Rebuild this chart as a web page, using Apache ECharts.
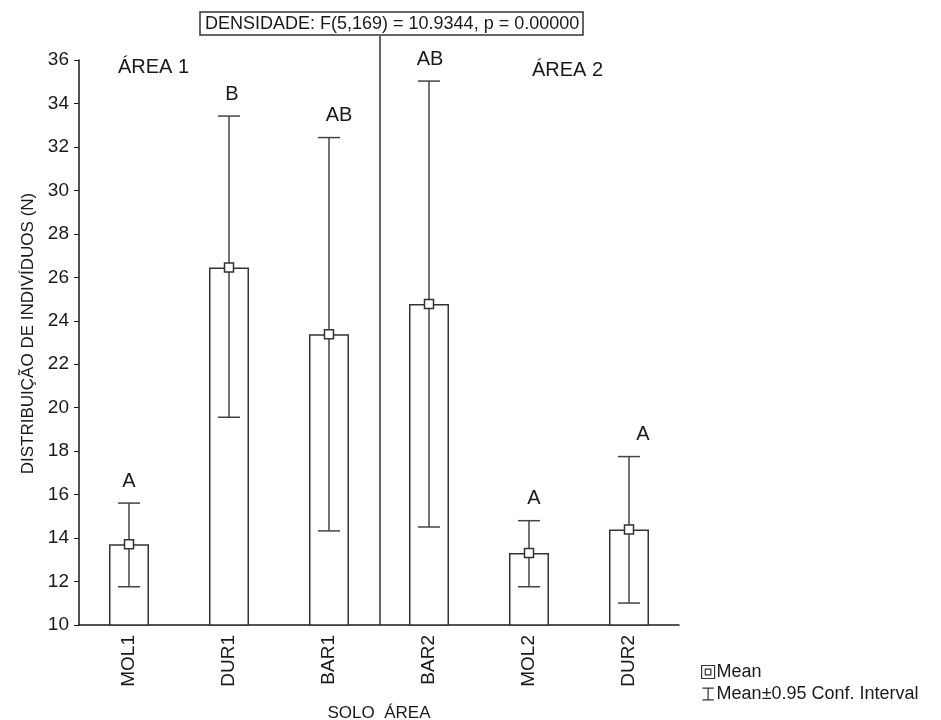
<!DOCTYPE html>
<html><head><meta charset="utf-8">
<script src="https://cdn.jsdelivr.net/npm/echarts@6/dist/echarts.min.js"></script>
<style>html,body{margin:0;padding:0;background:#fff}#c{width:941px;height:720px}</style>
</head><body><div id="c"></div>
<script>
// ---- data ----
const categories = ['MOL1','DUR1','BAR1','BAR2','MOL2','DUR2'];
const means      = [13.72, 26.45, 23.38, 24.77, 13.31, 14.39];
const ciLower    = [11.76, 19.56, 14.33, 14.51, 11.76, 11.01];
const ciUpper    = [15.61, 33.42, 32.43, 35.03, 14.80, 17.75];
const letters    = ['A','B','AB','AB','A','A'];
const yTicks     = [10,12,14,16,18,20,22,24,26,28,30,32,34,36];
const titleText  = 'DENSIDADE: F(5,169) = 10.9344, p = 0.00000';
const areaLabels = ['ÁREA 1','ÁREA 2'];
const separatorAfterIndex = 2; // line between BAR1 and BAR2

// ---- style ----
const FONT = 'Liberation Sans, Arial, sans-serif';
const INK = '#1a1a1a';
const letterShift = [0, 3, 10, 1, 5, 14];

const chart = echarts.init(document.getElementById('c'));
const errData = categories.map((c,i)=>[i, ciLower[i], ciUpper[i]]);
const meanData = categories.map((c,i)=>[i, means[i]]);
const letterData = categories.map((c,i)=>({value:[i, ciUpper[i]], label:{offset:[letterShift[i],0]}}));

chart.setOption({
  animation:false,
  backgroundColor:'#fff',
  textStyle:{fontFamily:FONT},
  title:[
    {text:titleText, left:200, top:12, padding:[3,4,2,5], borderColor:'#333', borderWidth:1.5,
     textStyle:{fontSize:18, fontWeight:'normal', color:INK, fontFamily:FONT}},
    {text:areaLabels[0], left:118, top:57, padding:0, textStyle:{fontSize:20, fontWeight:'normal', color:INK, fontFamily:FONT}},
    {text:areaLabels[1], left:532, top:60, padding:0, textStyle:{fontSize:20, fontWeight:'normal', color:INK, fontFamily:FONT}}
  ],
  legend:{
    orient:'vertical', left:696, top:658, itemGap:4, itemWidth:13, itemHeight:13,
    textStyle:{fontSize:18, color:INK, fontFamily:FONT, padding:[0,0,0,-3]},
    selectedMode:false,
    data:[
      {name:'Mean', icon:'path://M0,0H14V14H0ZM4,4H10V10H4Z',
       itemStyle:{color:'#fff', borderColor:'#333', borderWidth:1.2, opacity:1}},
      {name:'Mean±0.95 Conf. Interval', icon:'path://M0,0H14V1.5H7.75V14.5H14V16H0V14.5H6.25V1.5H0Z',
       itemStyle:{color:'#333', borderWidth:0, opacity:1}}
    ]
  },
  grid:[
    {left:79, right:262, top:60, bottom:95, containLabel:false, outerBoundsMode:'none'},
    {left:81, right:262, top:36, bottom:95, containLabel:false, outerBoundsMode:'none'}
  ],
  xAxis:[{
    type:'category', data:categories, gridIndex:0,
    name:'SOLO  ÁREA', nameLocation:'middle', nameGap:80,
    nameTextStyle:{fontSize:17, color:INK, fontFamily:FONT},
    axisLine:{lineStyle:{color:INK, width:1.5}},
    axisTick:{inside:true, length:5, alignWithLabel:true, lineStyle:{color:INK}, interval:0},
    axisLabel:{rotate:90, fontSize:19, color:INK, margin:10, fontFamily:FONT, interval:0},
    splitLine:{show:false}
  },{
    type:'value', gridIndex:1, min:0, max:categories.length, show:false
  }],
  yAxis:[{
    type:'value', min:10, max:36, interval:2, gridIndex:0,
    name:'DISTRIBUIÇÃO DE INDIVÍDUOS (N)', nameLocation:'middle', nameGap:40, nameRotate:90,
    nameTextStyle:{fontSize:17, color:INK, fontFamily:FONT, padding:[0,0,0,18]},
    axisLine:{show:true, lineStyle:{color:INK, width:1.5}},
    axisTick:{show:true, length:5, lineStyle:{color:INK}},
    axisLabel:{fontSize:19, color:INK, margin:10, fontFamily:FONT,
      formatter:v=> yTicks.includes(v) ? String(v) : ''},
    splitLine:{show:false}
  },{
    type:'value', gridIndex:1, min:0, max:1, show:false
  }],
  series:[
    {type:'bar', name:'bars', data:means, barWidth:40,
     itemStyle:{color:'#fff', borderColor:'#333', borderWidth:1.5}, silent:true, z:2},
    {type:'custom', name:'Mean±0.95 Conf. Interval', data:errData, z:3,
     itemStyle:{color:'#333'},
     encode:{x:0, y:[1,2]},
     renderItem:(params, api)=>{
       const i = api.value(0);
       const lo = api.coord([i, api.value(1)]);
       const hi = api.coord([i, api.value(2)]);
       const hw = 11;
       const st = {stroke:'#444', lineWidth:1.5};
       return {type:'group', children:[
         {type:'line', shape:{x1:lo[0], y1:lo[1], x2:hi[0], y2:hi[1]}, style:st},
         {type:'line', shape:{x1:hi[0]-hw, y1:hi[1], x2:hi[0]+hw, y2:hi[1]}, style:st},
         {type:'line', shape:{x1:lo[0]-hw, y1:lo[1], x2:lo[0]+hw, y2:lo[1]}, style:st}
       ]};
     }},
    {type:'scatter', name:'Mean', data:meanData, symbol:'rect', symbolSize:9, z:5,
     itemStyle:{color:'#fff', borderColor:'#333', borderWidth:1.5, opacity:1}},
    {type:'scatter', name:'letters', data:letterData, symbolSize:0, z:6, silent:true,
     itemStyle:{opacity:1},
     label:{show:true, position:'top', distance:12, fontSize:20, color:INK, fontFamily:FONT,
       formatter:p=>letters[p.dataIndex]}},
    {type:'scatter', name:'sep', xAxisIndex:1, yAxisIndex:1, data:[[separatorAfterIndex+1, 0]], symbolSize:0, silent:true,
     markLine:{symbol:'none', silent:true, label:{show:false},
       lineStyle:{color:'#333', width:1.5, type:'solid'},
       data:[{xAxis:separatorAfterIndex+1}]}}
  ]
});
</script></body></html>
